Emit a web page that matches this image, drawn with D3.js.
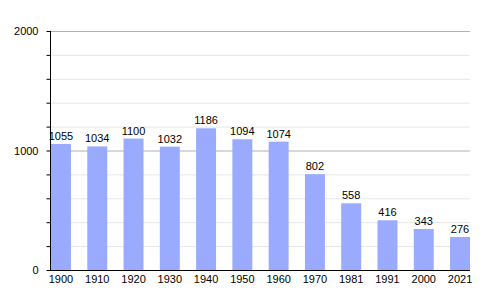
<!DOCTYPE html>
<html>
<head>
<meta charset="utf-8">
<script src="https://cdn.jsdelivr.net/npm/d3@7"></script>
<style>
  body { margin: 0; background: #fff; }
</style>
</head>
<body>
<svg id="chart" width="500" height="300"></svg>
<script>
// population by census year
const years = ['1900','1910','1920','1930','1940','1950','1960','1970','1981','1991','2000','2021'];
const population = [1055, 1034, 1100, 1032, 1186, 1094, 1074, 802, 558, 416, 343, 276];
const majorTicks = [0, 1000, 2000];
const minorTicks = [200, 400, 600, 800, 1200, 1400, 1600, 1800];

const svg = d3.select('#chart');
const font = 'Liberation Sans, Arial, sans-serif';

// plot area edges (note: "top" clashes with window.top)
const plotLeft = 50, plotRight = 470, plotTop = 31, plotBottom = 270;

const x = d3.scaleBand()
  .domain(years)
  .range([plotLeft + 1, plotRight])
  .paddingInner(0.45)
  .paddingOuter(0);

const y = d3.scaleLinear()
  .domain([0, 2000])
  .range([plotBottom, plotTop]);

// gridlines - minor ones are very faint
svg.append('g').selectAll('line')
  .data(minorTicks)
  .enter().append('line')
  .attr('x1', plotLeft).attr('x2', plotRight)
  .attr('y1', d => y(d) + 0.5).attr('y2', d => y(d) + 0.5)
  .attr('stroke', '#e6e6e6');

svg.append('g').selectAll('line')
  .data(majorTicks.filter(d => d > 0))
  .enter().append('line')
  .attr('x1', plotLeft).attr('x2', plotRight)
  .attr('y1', d => y(d) + 0.5).attr('y2', d => y(d) + 0.5)
  .attr('stroke', '#b0b0b0');

// bars
svg.selectAll('.bar')
  .data(years)
  .enter().append('rect')
  .attr('class', 'bar')
  .attr('x', d => x(d))
  .attr('width', x.bandwidth())
  .attr('y', (d, i) => y(population[i]))
  .attr('height', (d, i) => plotBottom - y(population[i]))
  .attr('fill', '#99aaff');

// value labels
svg.selectAll('.val')
  .data(years)
  .enter().append('text')
  .attr('class', 'val')
  .attr('x', d => x(d) + x.bandwidth() / 2)
  .attr('y', (d, i) => y(population[i]) - 4)
  .attr('text-anchor', 'middle')
  .attr('font-family', font)
  .attr('font-size', '11px')
  .attr('fill', '#000')
  .text((d, i) => population[i]);

// y axis with minor ticks
const yAxis = svg.append('g')
  .attr('transform', `translate(${plotLeft + 0.5},0)`)
  .call(d3.axisLeft(y)
    .tickValues(d3.sort(majorTicks.concat(minorTicks)))
    .tickSize(4)
    .tickFormat(d => majorTicks.includes(d) ? d : ''));
yAxis.select('.domain').attr('d', `M0,${plotTop}V${plotBottom}`).attr('stroke', '#000');
yAxis.selectAll('.tick line').attr('stroke', '#000');
yAxis.selectAll('.tick text')
  .attr('x', -12)
  .attr('font-family', font)
  .attr('font-size', '11px')
  .attr('fill', '#000');

// x axis
const xAxis = svg.append('g')
  .attr('transform', `translate(0,${plotBottom + 0.5})`)
  .call(d3.axisBottom(x).tickSize(0).tickPadding(5));
xAxis.select('.domain').attr('d', `M${plotLeft},0H${plotRight}`).attr('stroke', '#000');
xAxis.selectAll('.tick text')
  .attr('font-family', font)
  .attr('font-size', '11px')
  .attr('fill', '#000');
</script>
</body>
</html>
